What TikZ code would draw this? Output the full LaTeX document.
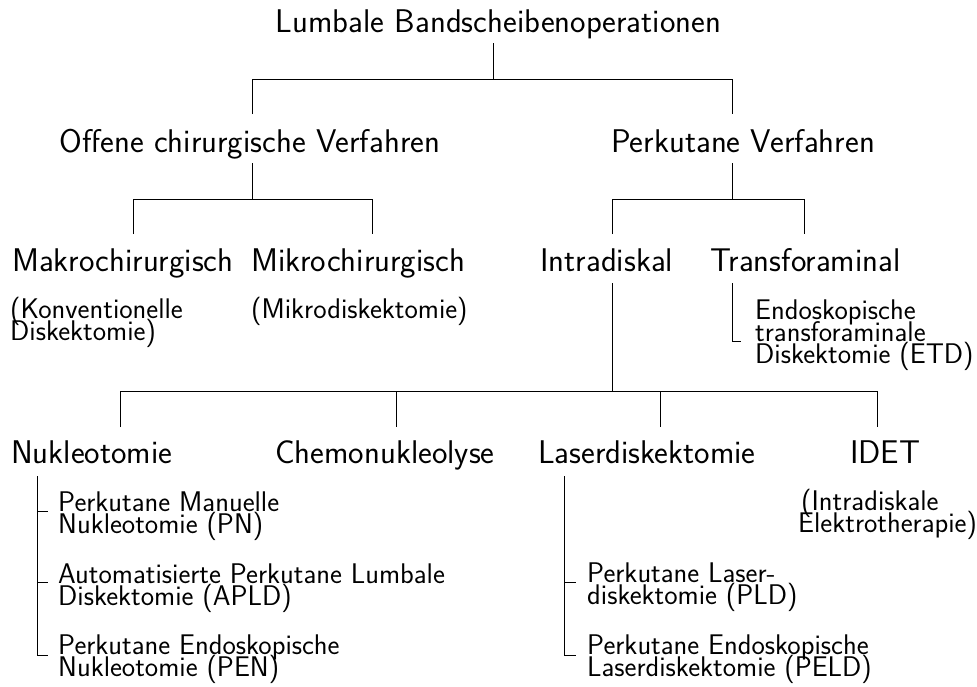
\documentclass[tikz,border=0pt]{standalone}
\usepackage{fontspec}
\setsansfont{Latin Modern Sans}
\newcommand\mlines[1]{\vtop{\baselineskip=22.4pt\lineskiplimit=-99pt\lineskip=0pt\halign{##\hfil\cr#1\crcr}}}
\tikzset{
  big/.style={inner sep=0pt, font=\sffamily\fontsize{32.8}{38}\selectfont},
  small/.style={inner sep=0pt, font=\sffamily\fontsize{28.4}{22.4}\selectfont},
  conn/.style={draw=black, line width=0.9pt}
}
\begin{document}
\begin{tikzpicture}[x=1pt,y=-1pt]
\useasboundingbox (0,0) rectangle (977,686);
% nodes
\node[big, anchor=base] (root) at (498.5,32) {Lumbale Bandscheibenoperationen};
\node[big, anchor=base] (offen) at (250,152) {Offene chirurgische Verfahren};
\node[big, anchor=base] (perk) at (743,152) {Perkutane Verfahren};
\node[big, anchor=base west] (makro) at (12,271) {Makrochirurgisch};
\node[big, anchor=base west] (mikro) at (251,271) {Mikrochirurgisch};
\node[big, anchor=base west] (intra) at (540,271) {Intradiskal};
\node[big, anchor=base west] (trans) at (710,271) {Transforaminal};
\node[small, anchor=base west] (konv) at (10,318) {\mlines{(Konventionelle\cr Diskektomie)}};
\node[small, anchor=base west] (mikrod) at (251,318) {(Mikrodiskektomie)};
\node[small, anchor=base west] (etd) at (755,319) {\mlines{Endoskopische\cr transforaminale\cr Diskektomie (ETD)}};
\node[big, anchor=base west] (nukleo) at (11,463) {Nukleotomie};
\node[big, anchor=base west] (chemo) at (275,463) {Chemonukleolyse};
\node[big, anchor=base west] (laser) at (538,463) {Laserdiskektomie};
\node[big, anchor=base west] (idet) at (850,463) {IDET};
\node[small, anchor=base west] (pn) at (58,511) {\mlines{Perkutane Manuelle\cr Nukleotomie (PN)}};
\node[small, anchor=base west] (apld) at (58,583) {\mlines{Automatisierte Perkutane Lumbale\cr Diskektomie (APLD)}};
\node[small, anchor=base west] (pen) at (58,654) {\mlines{Perkutane Endoskopische\cr Nukleotomie (PEN)}};
\node[small, anchor=base west] (pld) at (587,582) {\mlines{Perkutane Laser-\cr diskektomie (PLD)}};
\node[small, anchor=base west] (peld) at (587,654) {\mlines{Perkutane Endoskopische\cr Laserdiskektomie (PELD)}};
\node[small, anchor=base west] (idetn) at (798,510) {\mlines{\hspace{3pt}(Intradiskale\cr Elektrotherapie)}};
% junction coordinates
\coordinate (r0) at (493,43);  \coordinate (r1) at (493,79);
\coordinate (rl) at (252,79);  \coordinate (rr) at (732,79);
\coordinate (rl2) at (252,114); \coordinate (rr2) at (732,114);
\coordinate (o0) at (252,163); \coordinate (o1) at (252,199);
\coordinate (ol) at (133,199); \coordinate (or) at (372,199);
\coordinate (ol2) at (133,234); \coordinate (or2) at (372,234);
\coordinate (p0) at (732,163); \coordinate (p1) at (732,199);
\coordinate (pl) at (612,199); \coordinate (pr) at (804,199);
\coordinate (pl2) at (612,234); \coordinate (pr2) at (804,234);
\coordinate (t0) at (732,283); \coordinate (t1) at (732,341); \coordinate (t2) at (741,341);
\coordinate (i0) at (612,283); \coordinate (i1) at (612,391);
\coordinate (ia) at (120,391); \coordinate (ib) at (396,391); \coordinate (ic) at (660,391); \coordinate (id) at (877,391);
\coordinate (ia2) at (120,427); \coordinate (ib2) at (396,427); \coordinate (ic2) at (660,427); \coordinate (id2) at (877,427);
\coordinate (n0) at (37,476); \coordinate (n1) at (37,511); \coordinate (n2) at (37,582); \coordinate (n3) at (37,655);
\coordinate (n1e) at (48,511); \coordinate (n2e) at (48,582); \coordinate (n3e) at (48,655);
\coordinate (l0) at (564,476); \coordinate (l2) at (564,582); \coordinate (l3) at (564,655);
\coordinate (l2e) at (576,582); \coordinate (l3e) at (576,655);
% connectors
\draw[conn] (r0) -- (r1);
\draw[conn] (rl2) -- (rl) -- (rr) -- (rr2);
\draw[conn] (o0) -- (o1);
\draw[conn] (ol2) -- (ol) -- (or) -- (or2);
\draw[conn] (p0) -- (p1);
\draw[conn] (pl2) -- (pl) -- (pr) -- (pr2);
\draw[conn] (t0) -- (t1) -- (t2);
\draw[conn] (i0) -- (i1);
\draw[conn] (ia2) -- (ia) -- (id) -- (id2);
\draw[conn] (ib) -- (ib2);
\draw[conn] (ic) -- (ic2);
\draw[conn] (n0) -- (n3) -- (n3e);
\draw[conn] (n1) -- (n1e);
\draw[conn] (n2) -- (n2e);
\draw[conn] (l0) -- (l3) -- (l3e);
\draw[conn] (l2) -- (l2e);
\end{tikzpicture}
\end{document}
